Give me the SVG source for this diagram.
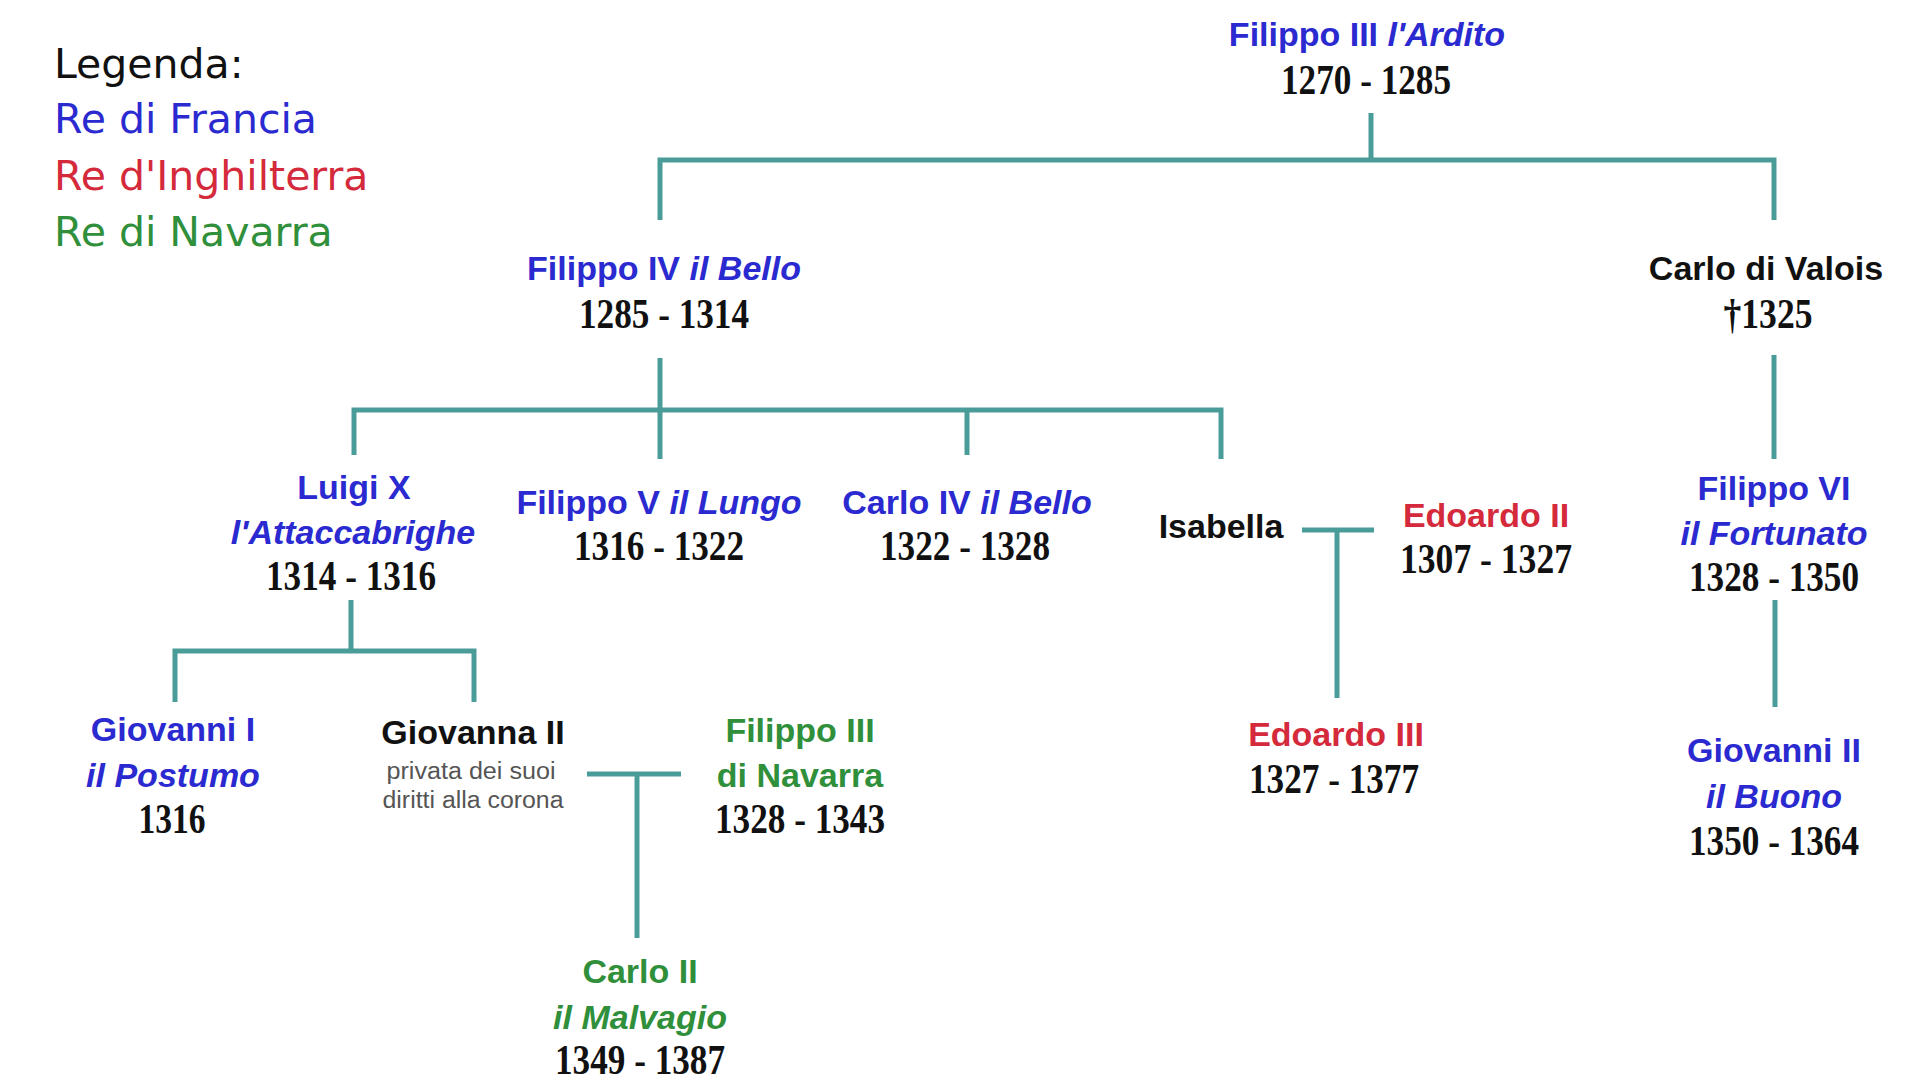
<svg xmlns="http://www.w3.org/2000/svg" width="1920" height="1080" viewBox="0 0 1920 1080">
<style>
.n{font-family:"Liberation Sans",Arial,sans-serif;font-weight:bold;font-size:34px;text-anchor:middle}
.d{font-family:"Liberation Serif","Times New Roman",serif;font-weight:bold;font-size:42px;text-anchor:middle;fill:#111}
.it{font-style:italic}
.fr{fill:#2a2ad0}
.en{fill:#d42a3c}
.nv{fill:#2f8f3a}
.bk{fill:#111}
.sm{font-family:"Liberation Sans",Arial,sans-serif;font-size:23px;fill:#555;text-anchor:middle}
.lg{font-family:"DejaVu Sans",sans-serif;font-size:41px}
.c{fill:none;stroke:#4a9c98;stroke-width:5}
</style>
<rect width="1920" height="1080" fill="#ffffff"/>
<g id="legend">
<text class="lg bk" x="54" y="78">Legenda:</text>
<text class="lg fr" x="54" y="133">Re di Francia</text>
<text class="lg en" x="54" y="190">Re d'Inghilterra</text>
<text class="lg nv" x="54" y="246">Re di Navarra</text>
</g>
<g id="connectors">
<path class="c" d="M1371 113V160M660 220V160H1774V220"/>
<path class="c" d="M660 358V459M354 455V410H1221V459M967 410V455"/>
<path class="c" d="M1774 355V459"/>
<path class="c" d="M1302 530H1374M1337 530V698"/>
<path class="c" d="M1775 600V707"/>
<path class="c" d="M351 600V651M175 702V651H474V702"/>
<path class="c" d="M587 774H681M637 774V938"/>
</g>
<g id="filippo3">
<text class="n fr" x="1367" y="46">Filippo III <tspan class="it">l'Ardito</tspan></text>
<text class="d" x="1366" y="94" textLength="170" lengthAdjust="spacingAndGlyphs">1270 - 1285</text>
</g>
<g id="filippo4">
<text class="n fr" x="664" y="280">Filippo IV <tspan class="it">il Bello</tspan></text>
<text class="d" x="664" y="328" textLength="170" lengthAdjust="spacingAndGlyphs">1285 - 1314</text>
</g>
<g id="carlo-valois">
<text class="n bk" x="1766" y="280">Carlo di Valois</text>
<text class="d" x="1768" y="328" textLength="89" lengthAdjust="spacingAndGlyphs">†1325</text>
</g>
<g id="luigi10">
<text class="n fr" x="354" y="499">Luigi X</text>
<text class="n fr it" x="353" y="544">l'Attaccabrighe</text>
<text class="d" x="351" y="590" textLength="170" lengthAdjust="spacingAndGlyphs">1314 - 1316</text>
</g>
<g id="filippo5">
<text class="n fr" x="659" y="514">Filippo V <tspan class="it">il Lungo</tspan></text>
<text class="d" x="659" y="560" textLength="170" lengthAdjust="spacingAndGlyphs">1316 - 1322</text>
</g>
<g id="carlo4">
<text class="n fr" x="967" y="514">Carlo IV <tspan class="it">il Bello</tspan></text>
<text class="d" x="965" y="560" textLength="170" lengthAdjust="spacingAndGlyphs">1322 - 1328</text>
</g>
<g id="isabella">
<text class="n bk" x="1221" y="538">Isabella</text>
</g>
<g id="edoardo2">
<text class="n en" x="1486" y="527">Edoardo II</text>
<text class="d" x="1486" y="573" textLength="172" lengthAdjust="spacingAndGlyphs">1307 - 1327</text>
</g>
<g id="filippo6">
<text class="n fr" x="1774" y="500">Filippo VI</text>
<text class="n fr it" x="1774" y="545">il Fortunato</text>
<text class="d" x="1774" y="591" textLength="170" lengthAdjust="spacingAndGlyphs">1328 - 1350</text>
</g>
<g id="giovanni2">
<text class="n fr" x="1774" y="762">Giovanni II</text>
<text class="n fr it" x="1774" y="808">il Buono</text>
<text class="d" x="1774" y="855" textLength="170" lengthAdjust="spacingAndGlyphs">1350 - 1364</text>
</g>
<g id="edoardo3">
<text class="n en" x="1336" y="746">Edoardo III</text>
<text class="d" x="1334" y="793" textLength="170" lengthAdjust="spacingAndGlyphs">1327 - 1377</text>
</g>
<g id="giovanni1">
<text class="n fr" x="173" y="741">Giovanni I</text>
<text class="n fr it" x="173" y="787">il Postumo</text>
<text class="d" x="172" y="833" textLength="67" lengthAdjust="spacingAndGlyphs">1316</text>
</g>
<g id="giovanna2">
<text class="n bk" x="473" y="744">Giovanna II</text>
<text class="sm" x="471" y="779" textLength="169" lengthAdjust="spacingAndGlyphs">privata dei suoi</text>
<text class="sm" x="473" y="808" textLength="181" lengthAdjust="spacingAndGlyphs">diritti alla corona</text>
</g>
<g id="filippo3-navarra">
<text class="n nv" x="800" y="742">Filippo III</text>
<text class="n nv" x="800" y="787">di Navarra</text>
<text class="d" x="800" y="833" textLength="170" lengthAdjust="spacingAndGlyphs">1328 - 1343</text>
</g>
<g id="carlo2">
<text class="n nv" x="640" y="983">Carlo II</text>
<text class="n nv it" x="640" y="1029">il Malvagio</text>
<text class="d" x="640" y="1074" textLength="170" lengthAdjust="spacingAndGlyphs">1349 - 1387</text>
</g>
</svg>
